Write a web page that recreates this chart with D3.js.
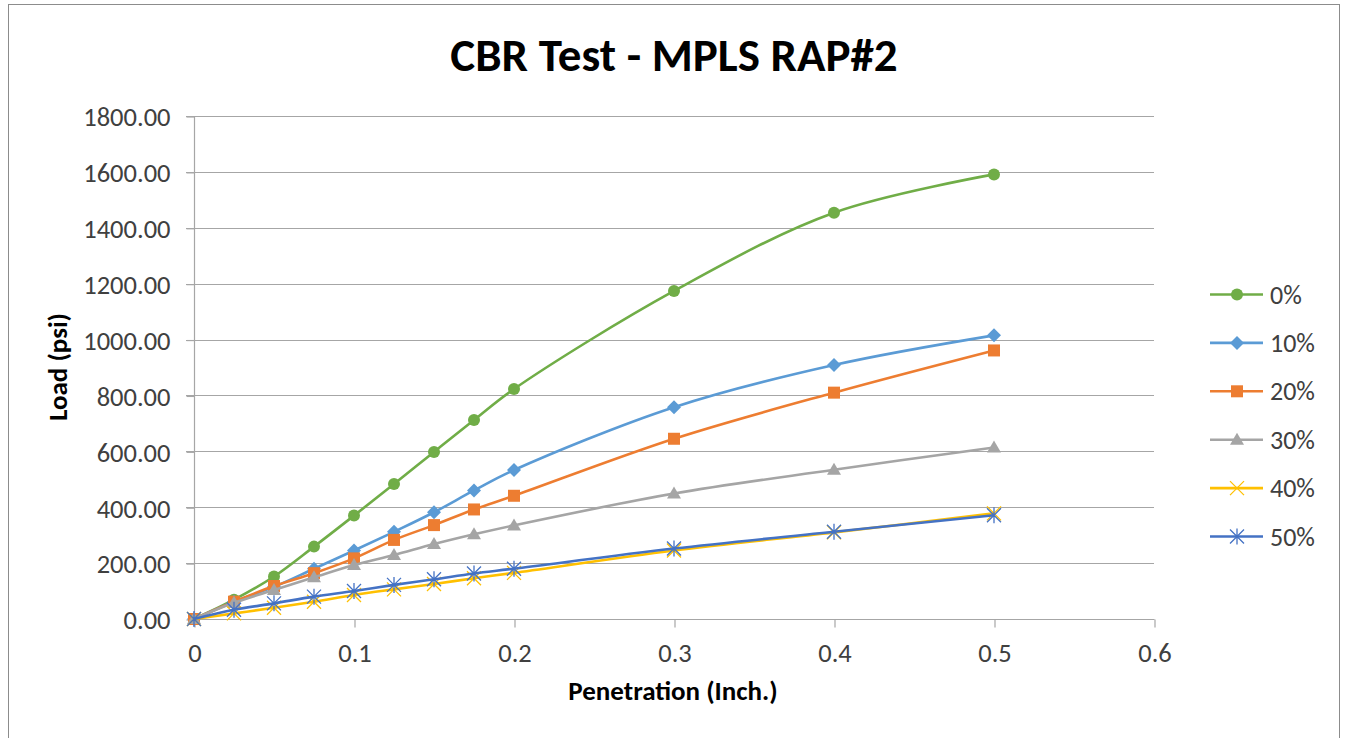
<!DOCTYPE html>
<html><head><meta charset="utf-8">
<script src="https://cdn.jsdelivr.net/npm/d3@7"></script>
<style>body{margin:0;background:#fff}svg{display:block}</style>
</head><body>
<svg id="c" width="1346" height="738"></svg>
<script>
const penetration = [0, 0.025, 0.05, 0.075, 0.1, 0.125, 0.15, 0.175, 0.2, 0.3, 0.4, 0.5];
const seriesNames = ["0%", "10%", "20%", "30%", "40%", "50%"];
const load0  = [0, 69, 152, 259, 370, 483, 598, 712, 823, 1174, 1454, 1591];
const load10 = [0, 62, 115, 180, 245, 312, 382, 460, 533, 758, 909, 1015];
const load20 = [0, 62, 118, 164, 217, 283, 336, 392, 441, 645, 810, 961];
const load30 = [0, 58, 104, 149, 193, 229, 268, 303, 335, 449, 534, 614];
const load40 = [0, 20, 40, 62, 86, 106, 125, 146, 165, 245, 310, 378];
const load50 = [0, 33, 56, 80, 100, 122, 142, 163, 180, 252, 312, 371];
const yTicks = [0, 200, 400, 600, 800, 1000, 1200, 1400, 1600, 1800];
const xTicks = [0, 0.1, 0.2, 0.3, 0.4, 0.5, 0.6];
const colors = ["#70AD47", "#5B9BD5", "#ED7D31", "#A5A5A5", "#FFC000", "#4472C4"];
const markers = ["circle", "diamond", "square", "triangle", "x", "star"];
const allLoads = [load0, load10, load20, load30, load40, load50];

const svg = d3.select("#c");
const font = "Calibri, Carlito, 'Open Sans', sans-serif";

svg.append("rect").attr("x", 8.5).attr("y", 4.5).attr("width", 1331).attr("height", 740)
  .attr("fill", "#fff").attr("stroke", "#8c8c8c").attr("stroke-width", 1);

const x = d3.scaleLinear().domain([0, 0.6]).range([194, 1154]);
const y = d3.scaleLinear().domain([0, 1800]).range([619, 116]);

// gridlines
svg.append("g").selectAll("line").data(yTicks.slice(1)).join("line")
  .attr("x1", 186).attr("x2", 1154)
  .attr("y1", d => Math.round(y(d)) + 0.5).attr("y2", d => Math.round(y(d)) + 0.5)
  .attr("stroke", "#a6a6a6").attr("stroke-width", 1.2);

// y axis
const yAxis = svg.append("g").attr("transform", "translate(194.5,0.5)")
  .call(d3.axisLeft(y).tickValues(yTicks).tickFormat(d3.format(".2f")).tickSize(8).tickPadding(16));
yAxis.select(".domain").attr("stroke", "#a6a6a6").attr("stroke-width", 1.2).attr("d", `M0,${y(0)}V${y(1800)}`);
yAxis.selectAll(".tick line").attr("stroke", "#a6a6a6").attr("stroke-width", 1.2);
yAxis.selectAll("text").attr("font-family", font).attr("font-size", 26.5).attr("fill", "#404040").attr("dy", "0.35em");

// x axis
const xAxis = svg.append("g").attr("transform", "translate(0.5,619.5)")
  .call(d3.axisBottom(x).tickValues(xTicks).tickFormat(d => d === 0 ? "0" : d3.format(".1f")(d)).tickSize(8).tickPadding(16));
xAxis.select(".domain").attr("stroke", "#a6a6a6").attr("stroke-width", 1.2).attr("d", `M${x(0)},0H${x(0.6)}`);
xAxis.selectAll(".tick line").attr("stroke", "#a6a6a6").attr("stroke-width", 1.2);
xAxis.selectAll("text").attr("font-family", font).attr("font-size", 26.5).attr("fill", "#404040");

// titles
svg.append("text").attr("x", 674).attr("y", 71).attr("text-anchor", "middle")
  .attr("font-family", font).attr("font-weight", "bold").attr("font-size", 47).attr("fill", "#000")
  .text("CBR Test - MPLS RAP#2");
svg.append("text").attr("x", 673).attr("y", 700).attr("text-anchor", "middle")
  .attr("font-family", font).attr("font-weight", "bold").attr("font-size", 27).attr("fill", "#000")
  .text("Penetration (Inch.)");
svg.append("text").attr("transform", "translate(67,367) rotate(-90)").attr("text-anchor", "middle")
  .attr("font-family", font).attr("font-weight", "bold").attr("font-size", 27).attr("fill", "#000")
  .text("Load (psi)");

function drawMarker(g, type, color, cx, cy) {
  if (type === "circle") {
    g.append("circle").attr("cx", cx).attr("cy", cy).attr("r", 6).attr("fill", color);
  } else if (type === "diamond") {
    g.append("path").attr("d", `M${cx},${cy-7}L${cx+7},${cy}L${cx},${cy+7}L${cx-7},${cy}Z`).attr("fill", color);
  } else if (type === "square") {
    g.append("rect").attr("x", cx-6).attr("y", cy-6).attr("width", 12).attr("height", 12).attr("fill", color);
  } else if (type === "triangle") {
    g.append("path").attr("d", `M${cx},${cy-7}L${cx+7},${cy+5}L${cx-7},${cy+5}Z`).attr("fill", color);
  } else if (type === "x") {
    g.append("path").attr("d", `M${cx-7},${cy-7}L${cx+7},${cy+7}M${cx-7},${cy+7}L${cx+7},${cy-7}`)
      .attr("stroke", color).attr("stroke-width", 1.3).attr("fill", "none");
  } else if (type === "star") {
    g.append("path").attr("d", `M${cx-7},${cy-7}L${cx+7},${cy+7}M${cx-7},${cy+7}L${cx+7},${cy-7}M${cx},${cy-8}V${cy+8}`)
      .attr("stroke", color).attr("stroke-width", 1.3).attr("fill", "none");
  }
}

const line = d3.line().x(d => x(d[0])).y(d => y(d[1])).curve(d3.curveCatmullRom.alpha(0.5));

seriesNames.forEach((name, i) => {
  const pts = penetration.map((p, j) => [p, allLoads[i][j]]);
  const g = svg.append("g");
  g.append("path").attr("d", line(pts)).attr("fill", "none").attr("stroke", colors[i]).attr("stroke-width", 2.6);
  pts.forEach(p => drawMarker(g, markers[i], colors[i], x(p[0]), y(p[1])));
});

// legend
const legendY0 = 294.5, legendStep = 48.4;
seriesNames.forEach((name, i) => {
  const ly = legendY0 + i * legendStep;
  const g = svg.append("g");
  g.append("line").attr("x1", 1210).attr("x2", 1263).attr("y1", ly).attr("y2", ly)
    .attr("stroke", colors[i]).attr("stroke-width", 2.6);
  drawMarker(g, markers[i], colors[i], 1237, ly);
  g.append("text").attr("x", 1270).attr("y", ly).attr("dy", "0.35em")
    .attr("font-family", font).attr("font-size", 26).attr("fill", "#404040").text(name);
});
</script>
</body></html>
